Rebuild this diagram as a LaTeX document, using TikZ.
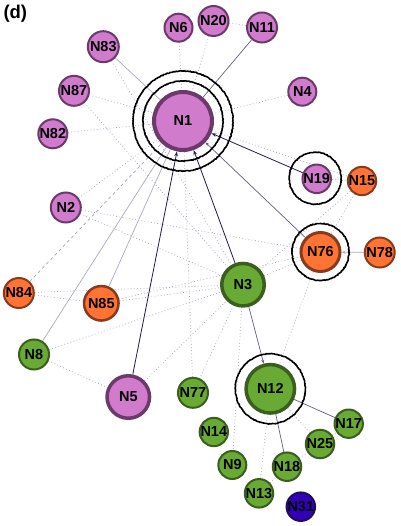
\documentclass[tikz,border=0pt]{standalone}
\usepackage{fontspec}
\setmainfont{Liberation Sans}
\usetikzlibrary{arrows.meta,backgrounds,decorations.pathmorphing}
\definecolor{pinkf}{HTML}{D07BCB}
\definecolor{pinkd}{HTML}{6B3A6B}
\definecolor{orf}{HTML}{FF7335}
\definecolor{ord}{HTML}{8A3A1C}
\definecolor{grf}{HTML}{68AA34}
\definecolor{grd}{HTML}{3B5E1F}
\definecolor{blf}{HTML}{3300B8}
\definecolor{bld}{HTML}{1E0F5E}
\definecolor{navy}{HTML}{1C1C4E}
\definecolor{midl}{HTML}{5E5E86}
\definecolor{lite}{HTML}{A9A9C2}
\definecolor{dotc}{HTML}{A2A2BE}
\tikzset{
  vtx/.style={circle, inner sep=0pt, text=black, font=\fontsize{14.5}{15}\selectfont\bfseries},
  pk/.style={vtx, fill=pinkf, draw=pinkd},
  og/.style={vtx, fill=orf, draw=ord},
  gn/.style={vtx, fill=grf, draw=grd},
  bl/.style={vtx, fill=blf, draw=bld},
  sm/.style={line width=2pt},
  navyedge/.style={draw=navy, line width=0.8pt, -{Stealth[length=5pt,width=3.5pt]}},
  midedge/.style={draw=midl, line width=0.7pt},
  liteedge/.style={draw=lite, line width=0.7pt},
  dotedge/.style={draw=dotc, line width=0.7pt, dash pattern=on 0.8pt off 2.4pt},
  dashedge/.style={draw=dotc, line width=0.7pt, dash pattern=on 3pt off 3pt},
  ring/.style={draw=black, line width=1.6pt, decorate, decoration={random steps, segment length=1pt, amplitude=0.35pt}},
}
\begin{document}
\begin{tikzpicture}[x=1pt,y=-1pt]
\useasboundingbox (0,0) rectangle (400,526);
\node[font=\fontsize{18.5}{20}\selectfont\bfseries, anchor=north west, inner sep=0pt] (lbl) at (3.3,5) {(d)};
% nodes
\node[pk, line width=4pt, minimum size=58pt] (N1) at (183,121) {N1};
\node[pk, sm, minimum size=28pt] (N6) at (178.5,27.7) {N6};
\node[pk, sm, minimum size=30pt] (N20) at (213.5,21) {N20};
\node[pk, sm, minimum size=30pt] (N11) at (262,27.5) {N11};
\node[pk, sm, minimum size=31pt] (N83) at (103.3,46.7) {N83};
\node[pk, sm, minimum size=30pt] (N87) at (74,90.8) {N87};
\node[pk, sm, minimum size=29pt] (N82) at (52.8,133.8) {N82};
\node[pk, sm, minimum size=28pt] (N4) at (302.3,91.7) {N4};
\node[pk, sm, minimum size=30pt] (N2) at (65.8,207.5) {N2};
\node[pk, sm, minimum size=28pt] (N19) at (316.7,178.8) {N19};
\node[og, sm, minimum size=28pt] (N15) at (362,181) {N15};
\node[og, line width=3pt, minimum size=39pt] (N76) at (320.5,252) {N76};
\node[og, sm, minimum size=30pt] (N78) at (379.7,252.5) {N78};
\node[og, sm, minimum size=30pt] (N84) at (18.8,293) {N84};
\node[og, line width=2.5pt, minimum size=34.5pt] (N85) at (101.3,303.3) {N85};
\node[gn, line width=3.5pt, minimum size=42.5pt] (N3) at (243,284.7) {N3};
\node[gn, sm, minimum size=30pt] (N8) at (34,354.5) {N8};
\node[pk, line width=3.5pt, minimum size=42.5pt] (N5) at (128.3,397) {N5};
\node[gn, sm, minimum size=30pt] (N77) at (193,392.8) {N77};
\node[gn, line width=3.5pt, minimum size=48.5pt] (N12) at (270.3,388.8) {N12};
\node[gn, sm, minimum size=28pt] (N14) at (213.8,432) {N14};
\node[gn, sm, minimum size=28pt] (N17) at (348.7,423.7) {N17};
\node[gn, sm, minimum size=28pt] (N25) at (320,444) {N25};
\node[gn, sm, minimum size=28pt] (N9) at (232.3,465) {N9};
\node[gn, sm, minimum size=28pt] (N18) at (287,466.7) {N18};
\node[gn, sm, minimum size=28pt] (N13) at (259,493.3) {N13};
\node[bl, sm, minimum size=28pt] (N31) at (300.8,506.7) {N31};
\begin{scope}[on background layer]
% dotted edges
\foreach \a/\b in {N6/N1, N20/N1, N20/N11, N87/N1, N82/N1, N4/N1, N2/N1, N84/N85,
  N19/N15, N1/N15, N8/N5, N8/N3, N85/N76, N85/N3, N5/N3, N77/N1, N3/N77, N3/N9,
  N76/N12, N13/N12, N12/N25, N18/N25, N13/N18, N25/N17, N15/N76, N3/N76, N2/N3,
  N87/N3, N3/N15, N2/N76, N84/N3, N83/N3}
  \draw[dotedge] (\a) -- (\b);
\draw[dashedge] (N84) -- (N1);
% light solid edges
\draw[liteedge] (N83) -- (N1);
\draw[liteedge] (N85) -- (N1);
\draw[liteedge] (N8) -- (N1);
\draw[liteedge, -{Stealth[length=4pt,width=3pt]}] (N78) -- (N76);
% medium solid edges
\draw[midedge] (N11) -- (N1);
\draw[midedge, -{Stealth[length=4pt,width=3pt]}] (N76) -- (N1);
\draw[midedge, -{Stealth[length=4pt,width=3pt]}] (N3) -- (N12);
\draw[midedge] (N12) -- (N17);
\draw[midedge] (N12) -- (N18);
% navy arrows
\draw[navyedge] (N19) -- (N1);
\draw[navyedge] (N5) -- (N1);
\draw[navyedge] (N3) -- (N1);
% rings
\draw[ring] (N1.center) circle[radius=40pt];
\draw[ring] (N1.center) circle[radius=50pt];
\draw[ring] ([xshift=-1.5pt,yshift=0.5pt]N19.center) circle[radius=26pt];
\draw[ring] (N76.center) circle[radius=28.5pt];
\draw[ring] (N12.center) circle[radius=35pt];
\end{scope}
\end{tikzpicture}
\end{document}
